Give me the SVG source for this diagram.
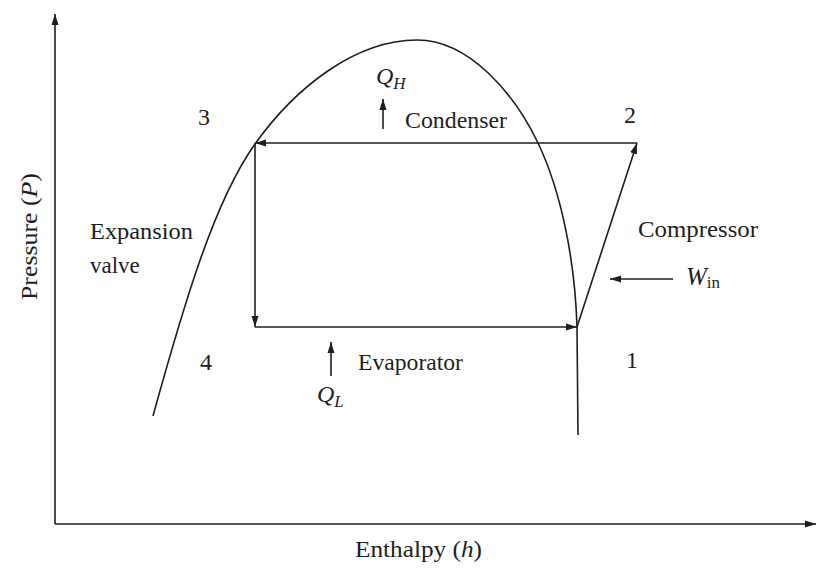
<svg xmlns="http://www.w3.org/2000/svg" width="818" height="572" viewBox="0 0 818 572">
  <style>
    .ln { fill: none; stroke: #1e1e1e; stroke-width: 1.6; }
    .t { font-family: "Liberation Serif", "DejaVu Serif", serif; font-size: 23px; fill: #1e1e1e; }
    .num { font-size: 24px; }
    .it { font-style: italic; }
    .sub { font-size: 17px; }
  </style>
  <defs>
    <marker id="ah" markerUnits="userSpaceOnUse" markerWidth="12" markerHeight="8" refX="11" refY="4" orient="auto">
      <path d="M0,0.5 L11,4 L0,7.5 z" fill="#1e1e1e"/>
    </marker>
  </defs>
  <rect x="0" y="0" width="818" height="572" fill="#ffffff"/>

  <g id="axes">
    <path class="ln" d="M55,524 L55,14" marker-end="url(#ah)"/>
    <path class="ln" d="M55,524 L816,524" marker-end="url(#ah)"/>
    <text class="t" transform="translate(37,300) rotate(-90)" x="0" y="0" textLength="127" lengthAdjust="spacingAndGlyphs">Pressure (<tspan class="it">P</tspan>)</text>
    <text class="t" x="355" y="557" textLength="127" lengthAdjust="spacingAndGlyphs">Enthalpy (<tspan class="it">h</tspan>)</text>
  </g>

  <g id="saturation-dome">
    <path class="ln" d="M153,416 C185,300 215,200 255,144 C295,88 355,40 417,40 C470,40 515,95 538,143 C561,191 575,260 577,327 L578,435"/>
  </g>

  <g id="connectors">
    <path class="ln" d="M637,143 L255,143" marker-end="url(#ah)"/>
    <path class="ln" d="M255,143 L255,327" marker-end="url(#ah)"/>
    <path class="ln" d="M255,327 L577,327" marker-end="url(#ah)"/>
    <path class="ln" d="M577,327 L637,143" marker-end="url(#ah)"/>
    <path class="ln" d="M383,129 L383,99" marker-end="url(#ah)"/>
    <path class="ln" d="M331,376 L331,342" marker-end="url(#ah)"/>
    <path class="ln" d="M673,279 L610,279" marker-end="url(#ah)"/>
  </g>

  <g id="state-3"><text class="t num" x="204" y="125" text-anchor="middle">3</text></g>
  <g id="state-2"><text class="t num" x="630" y="123" text-anchor="middle">2</text></g>
  <g id="state-1"><text class="t num" x="632" y="368" text-anchor="middle">1</text></g>
  <g id="state-4"><text class="t num" x="206" y="370" text-anchor="middle">4</text></g>

  <g id="condenser">
    <text class="t" x="405" y="128" textLength="102" lengthAdjust="spacingAndGlyphs">Condenser</text>
    <text class="t it" x="376" y="84" style="font-size:24px">Q<tspan class="sub" dy="5">H</tspan></text>
  </g>
  <g id="evaporator">
    <text class="t" x="358" y="370" textLength="105" lengthAdjust="spacingAndGlyphs">Evaporator</text>
    <text class="t it" x="317" y="402" style="font-size:24px">Q<tspan class="sub" dy="5">L</tspan></text>
  </g>
  <g id="compressor">
    <text class="t" x="638" y="237" textLength="120" lengthAdjust="spacingAndGlyphs">Compressor</text>
    <text class="t" x="686" y="285" style="font-size:25px"><tspan class="it">W</tspan><tspan class="sub" dy="3">in</tspan></text>
  </g>
  <g id="expansion-valve">
    <text class="t" x="90" y="239" textLength="103" lengthAdjust="spacingAndGlyphs">Expansion</text>
    <text class="t" x="90" y="273">valve</text>
  </g>
</svg>
